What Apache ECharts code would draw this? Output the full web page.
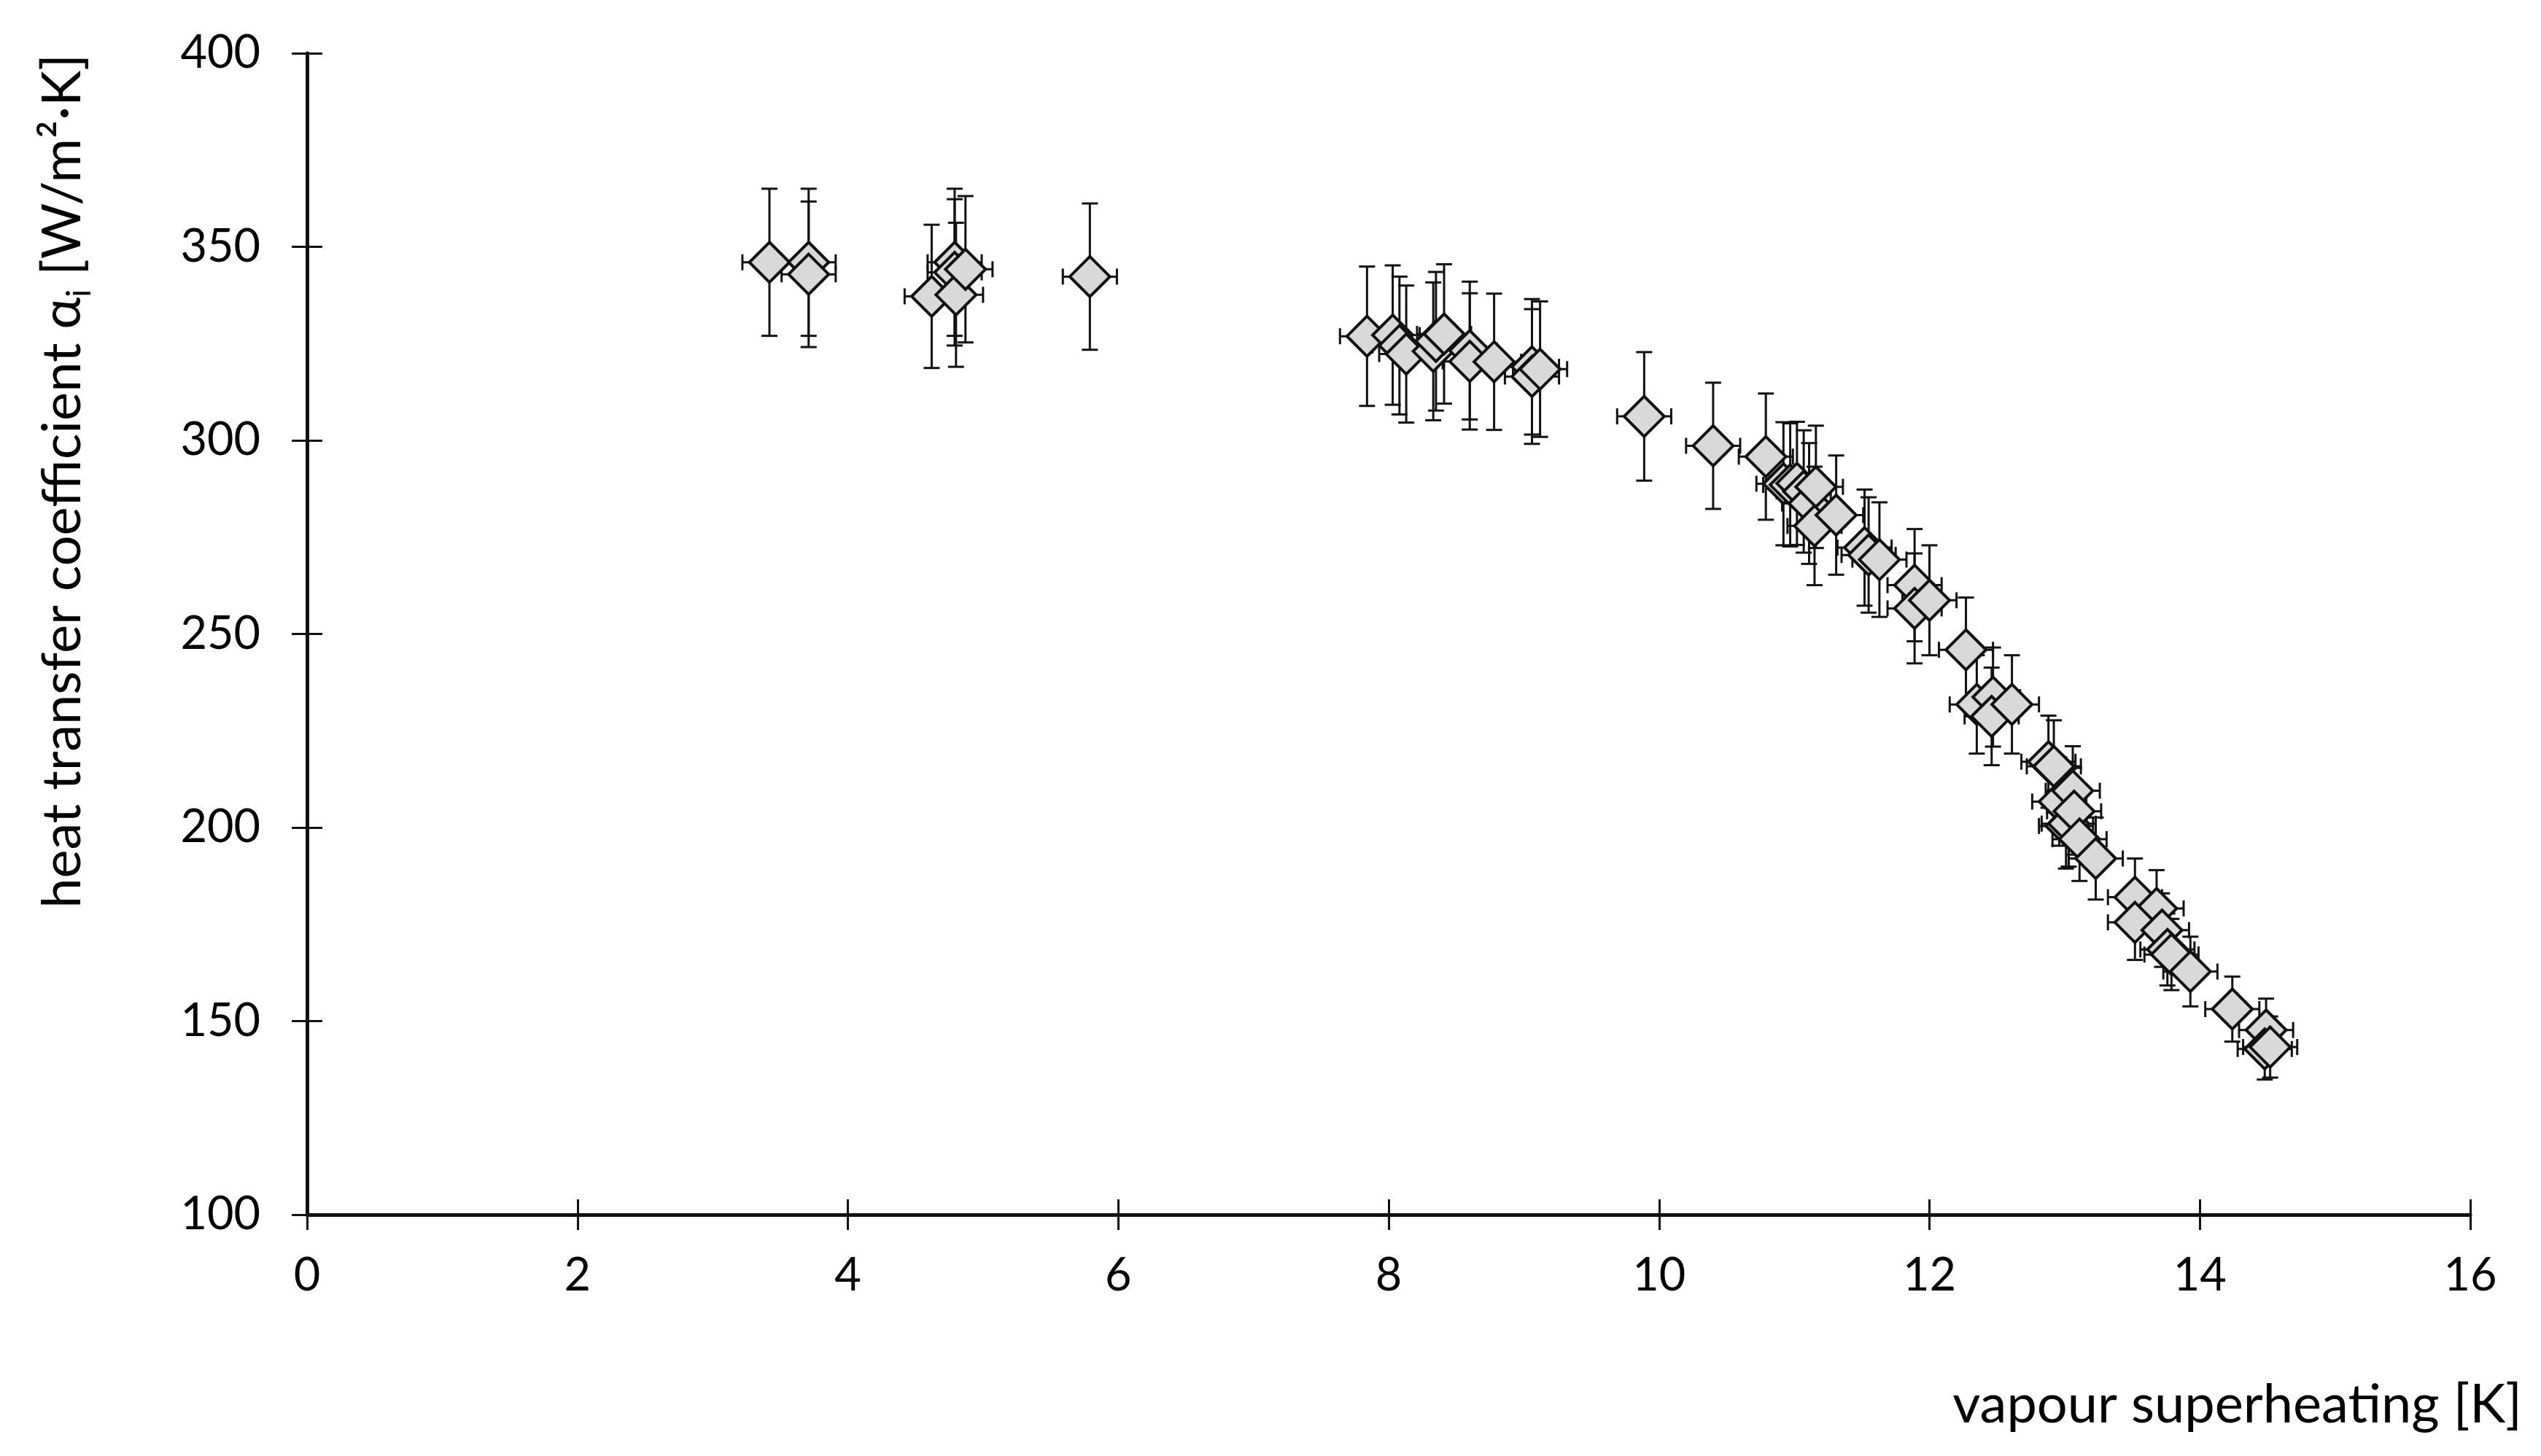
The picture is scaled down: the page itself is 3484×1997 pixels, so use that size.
<!DOCTYPE html>
<html>
<head>
<meta charset="utf-8">
<title>heat transfer coefficient vs vapour superheating</title>
<script src="https://cdn.jsdelivr.net/npm/echarts@6/dist/echarts.min.js"></script>
<style>
  html, body { margin: 0; padding: 0; background: #fff; }
  #chart { width: 3484px; height: 1997px; }
</style>
</head>
<body>
<div id="chart"></div>
<script>
// vapour superheating [K]
const superheat = [
  3.42, 3.71, 3.71, 4.62, 4.79, 4.79, 4.80, 4.87, 5.79,
  7.84, 8.03, 8.08, 8.13, 8.33, 8.35, 8.41, 8.60, 8.60, 8.78, 9.06, 9.06, 9.12,
  9.89, 10.40, 10.79, 10.92, 10.97, 11.02, 11.07, 11.11, 11.16, 11.15, 11.31,
  11.52, 11.55, 11.63, 11.89, 11.89, 12.00, 12.27, 12.35, 12.47, 12.46, 12.61,
  12.88, 12.92, 12.96, 13.01, 13.03, 13.06, 13.07, 13.11, 13.23,
  13.52, 13.68, 13.52, 13.72, 13.76, 13.79, 13.93, 14.24, 14.49, 14.48, 14.52
];
// heat transfer coefficient alpha_i [W/m2K]
const alpha = [
  346.0, 346.0, 342.9, 337.2, 346.0, 343.4, 337.6, 344.2, 342.3,
  326.9, 327.2, 324.5, 322.3, 323.0, 325.6, 327.5, 323.2, 320.4, 320.3, 319.0, 316.5, 318.4,
  306.2, 298.6, 295.8, 288.8, 288.5, 288.9, 286.8, 283.7, 288.0, 277.9, 280.7,
  272.3, 270.4, 269.2, 262.6, 256.6, 258.7, 245.9, 231.8, 233.7, 228.7, 231.8,
  217.0, 215.8, 206.7, 200.4, 201.0, 209.5, 204.2, 197.0, 192.0,
  182.0, 179.1, 175.5, 173.5, 168.5, 167.2, 162.8, 153.1, 147.7, 142.8, 143.3
];
// half length of the vertical error bars
const alphaErr = [
  19.0, 19.0, 18.8, 18.5, 19.0, 18.9, 18.6, 18.9, 18.9,
  18.0, 18.0, 17.8, 17.7, 17.8, 17.9, 18.0, 17.8, 17.6, 17.6, 17.5, 17.4, 17.5,
  16.6, 16.3, 16.3, 15.9, 15.9, 15.9, 15.8, 15.6, 15.8, 15.3, 15.4,
  15.0, 14.9, 14.8, 14.5, 14.2, 14.2, 13.5, 12.7, 12.8, 12.6, 12.7,
  11.9, 11.9, 11.4, 11.0, 11.1, 11.5, 11.2, 10.8, 10.6,
  10.0, 9.9, 9.7, 9.5, 9.3, 9.2, 9.0, 8.4, 8.1, 7.9, 7.9
];
// half length of the horizontal error bars [K]
const superheatErr = 0.2;

const xTicks = { min: 0, max: 16, interval: 2 };
const yTicks = { min: 100, max: 400, interval: 50 };

const FONT = 'Lato';
const INK = '#111111';

const points = superheat.map((x, i) => [x, alpha[i], alphaErr[i]]);

const chart = echarts.init(document.getElementById('chart'));

function errorBars(params, api) {
  const x = api.value(0), y = api.value(1), e = api.value(2);
  const top = api.coord([x, y + e]);
  const bot = api.coord([x, y - e]);
  const left = api.coord([x - superheatErr, y]);
  const right = api.coord([x + superheatErr, y]);
  const cap = 11;
  const style = { stroke: INK, lineWidth: 3 };
  const line = (x1, y1, x2, y2) => ({ type: 'line', shape: { x1, y1, x2, y2 }, style });
  return {
    type: 'group',
    children: [
      line(top[0], top[1], bot[0], bot[1]),
      line(top[0] - cap, top[1], top[0] + cap, top[1]),
      line(bot[0] - cap, bot[1], bot[0] + cap, bot[1]),
      line(left[0], left[1], right[0], right[1]),
      line(left[0], left[1] - cap, left[0], left[1] + cap),
      line(right[0], right[1] - cap, right[0], right[1] + cap)
    ]
  };
}

const baseX = {
  type: 'value', min: xTicks.min, max: xTicks.max, interval: xTicks.interval,
  position: 'bottom', splitLine: { show: false }
};
const baseY = {
  type: 'value', min: yTicks.min, max: yTicks.max, interval: yTicks.interval,
  position: 'left', splitLine: { show: false }
};

chart.setOption({
  animation: false,
  backgroundColor: '#ffffff',
  grid: { left: 421, right: 97, top: 73, bottom: 331, containLabel: false },
  xAxis: [
    Object.assign({}, baseX, {
      axisLine: { show: true, onZero: false, lineStyle: { color: INK, width: 5 } },
      axisTick: { show: true, inside: false, length: 21, lineStyle: { color: INK, width: 3 } },
      axisLabel: { show: true, margin: 52, color: '#000', fontFamily: FONT, fontSize: 63 }
    }),
    Object.assign({}, baseX, {
      axisLine: { show: false, onZero: false },
      axisTick: { show: true, inside: true, length: 21, lineStyle: { color: INK, width: 3 } },
      axisLabel: { show: false }
    })
  ],
  yAxis: [
    Object.assign({}, baseY, {
      axisLine: { show: true, onZero: false, lineStyle: { color: INK, width: 5 } },
      axisTick: { show: true, inside: false, length: 21, lineStyle: { color: INK, width: 3 } },
      axisLabel: { show: true, margin: 64, color: '#000', fontFamily: FONT, fontSize: 63 }
    }),
    Object.assign({}, baseY, {
      axisLine: { show: false, onZero: false },
      axisTick: { show: true, inside: true, length: 21, lineStyle: { color: INK, width: 3 } },
      axisLabel: { show: false }
    })
  ],
  graphic: [
    {
      type: 'text',
      x: 86, y: 660,
      rotation: Math.PI / 2,
      style: {
        text: '{a|heat transfer coefficient α}{s|i}{a| [W/m²·K]}',
        align: 'center', verticalAlign: 'middle',
        rich: {
          a: { fontFamily: FONT, fontSize: 74, fill: '#000', lineHeight: 92, verticalAlign: 'middle' },
          s: { fontFamily: FONT, fontSize: 46, fill: '#000', lineHeight: 92, verticalAlign: 'bottom' }
        }
      }
    },
    {
      type: 'text',
      x: 3458, y: 1927,
      style: {
        text: 'vapour superheating [K]',
        align: 'right', verticalAlign: 'middle',
        fontFamily: FONT, fontSize: 74, fill: '#000'
      }
    }
  ],
  series: [
    {
      type: 'custom',
      xAxisIndex: 0, yAxisIndex: 0,
      renderItem: errorBars,
      data: points,
      encode: { x: 0, y: 1 },
      z: 2,
      silent: true
    },
    {
      type: 'scatter',
      xAxisIndex: 0, yAxisIndex: 0,
      data: points.map(p => [p[0], p[1]]),
      symbol: 'diamond',
      symbolSize: 55,
      itemStyle: { color: '#d9d9d9', borderColor: INK, borderWidth: 4, opacity: 1 },
      z: 3
    }
  ]
});

window.addEventListener('resize', () => chart.resize());
</script>
</body>
</html>
